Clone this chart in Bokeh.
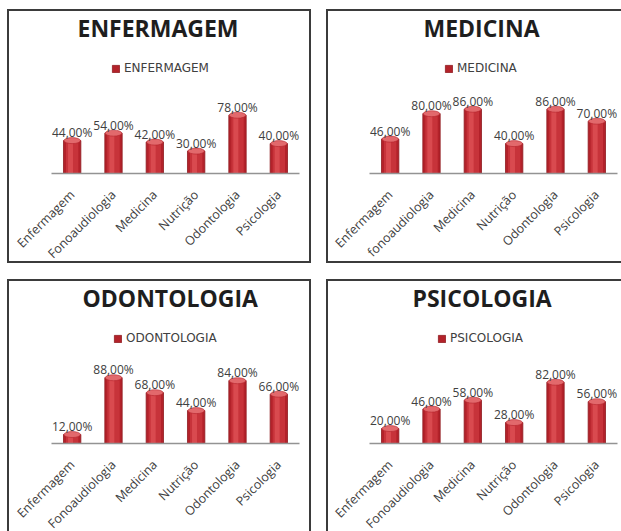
import math

from bokeh.core.properties import value
from bokeh.embed import file_html
from bokeh.layouts import column, row
from bokeh.models import FactorRange, Legend, LegendItem, Range1d, Spacer
from bokeh.plotting import figure
from bokeh.resources import INLINE
from bokeh.transform import dodge

# Courses evaluated (x axis of every panel)
cursos = ["Enfermagem", "Fonoaudiologia", "Medicina", "Nutrição", "Odontologia", "Psicologia"]
cursos_medicina = ["Enfermagem", "fonoaudiologia", "Medicina", "Nutrição", "Odontologia", "Psicologia"]

# Percentages per group of respondents
enfermagem = [44, 54, 42, 30, 78, 40]
medicina = [46, 80, 86, 40, 86, 70]
odontologia = [12, 88, 68, 44, 84, 66]
psicologia = [20, 46, 58, 28, 82, 56]

BORDER = "2px solid #3b3b3b"
TEXT = "#404040"
BOX_H = 250      # visible height of each bordered chart box
CANVAS_H = 270   # canvas height; the empty rows under the labels are clipped by the box
TOP = 31         # space for the title
BASE = 162       # y of the category axis inside the box
PX_PER_UNIT = 0.765


def rotulo(v):
    return f"{v:.2f}".replace(".", ",") + "%"


def painel(nome, cats, vals, width, left, title_offset, legend_x, borders):
    p = figure(
        x_range=FactorRange(*cats),
        y_range=Range1d(0, (BASE - TOP) / PX_PER_UNIT),
        width=width,
        height=CANVAS_H,
        output_backend="svg",
        toolbar_location=None,
        min_border_left=left,
        min_border_right=width - left - 248,
        min_border_top=TOP,
        min_border_bottom=CANVAS_H - BASE,
        background_fill_color="white",
        border_fill_color="white",
    )
    p.styles = {"height": f"{CANVAS_H}px", "min-height": f"{CANVAS_H}px", "flex-shrink": "0"}

    p.outline_line_color = None
    p.xgrid.grid_line_color = None
    p.ygrid.grid_line_color = None
    p.yaxis.visible = False

    p.title.text = nome
    p.title.align = "left"
    p.title.vertical_align = "top"
    p.title.offset = title_offset
    p.title.text_font = "Open Sans"
    p.title.text_font_size = "23px"
    p.title.text_font_style = "bold"
    p.title.text_color = "#1e1e1e"
    p.title.standoff = 0

    ax = p.xaxis[0]
    ax.axis_line_color = "#939393"
    ax.axis_line_width = 1.5
    ax.major_tick_line_color = None
    ax.minor_tick_line_color = None
    ax.major_tick_out = 0
    ax.major_tick_in = 0
    ax.major_label_orientation = math.pi / 4
    ax.major_label_text_font = "Open Sans"
    ax.major_label_text_font_size = "12.5px"
    ax.major_label_text_color = TEXT
    ax.major_label_standoff = 19

    src = dict(x=cats, y=vals, t=[rotulo(v) for v in vals])

    # cylinder-like shading: dark body, lighter core, highlight strip, top cap
    corpo = p.vbar(x="x", top="y", width=0.42, source=src,
                   fill_color="#B3222A", line_color="#8E1A1F", line_width=0.8)
    p.vbar(x="x", top="y", width=0.30, source=src, fill_color="#C7333A", line_color=None)
    p.vbar(x=dodge("x", -0.04, range=p.x_range), top="y", width=0.12, source=src,
           fill_color="#D94A4F", line_color=None)
    p.ellipse(x="x", y="y", width=0.40, height=6, height_units="screen", source=src,
              fill_color="#E2696C", line_color="#B3222A", line_width=0.6)

    p.text(x="x", y="y", text="t", source=src, text_align="center",
           text_baseline="alphabetic", y_offset=-8,
           text_font=value("Open Sans"), text_font_size="12px", text_color=TEXT)

    leg = Legend(
        items=[LegendItem(label=nome, renderers=[corpo])],
        location=(legend_x, 98),
        orientation="horizontal",
        padding=0,
        margin=0,
        spacing=0,
        glyph_width=9,
        glyph_height=9,
        label_height=14,
        label_standoff=4,
        label_text_font="DejaVu Sans",
        label_text_font_size="12px",
        label_text_color=TEXT,
        border_line_color=None,
        background_fill_alpha=0,
    )
    p.add_layout(leg)

    # bordered box that shows the top BOX_H pixels of the chart
    css = {"box-sizing": "content-box", "height": f"{BOX_H}px", "overflow": "hidden"}
    for side in ("top", "right", "bottom", "left"):
        if side in borders:
            css[f"border-{side}"] = BORDER
    return column(p, styles=css)


p1 = painel("ENFERMAGEM", cursos, enfermagem, 300, 42, 26, 60, ("top", "right", "bottom", "left"))
p2 = painel("MEDICINA", cursos_medicina, medicina, 293, 41, 54, 75, ("top", "bottom", "left"))
p3 = painel("ODONTOLOGIA", cursos, odontologia, 300, 42, 31, 62, ("top", "right", "left"))
p4 = painel("PSICOLOGIA", cursos, psicologia, 293, 41, 43, 68, ("top", "left"))

layout = column(
    Spacer(height=9),
    row(Spacer(width=7), p1, Spacer(width=15), p2),
    Spacer(height=16),
    row(Spacer(width=7), p3, Spacer(width=15), p4),
)

open("out.html", "w").write(file_html(layout, INLINE))
